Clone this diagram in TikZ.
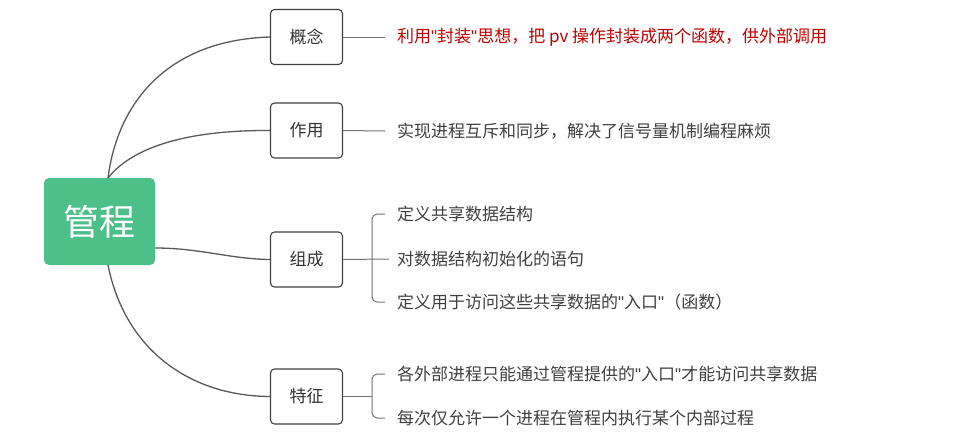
\documentclass[tikz,border=0pt]{standalone}
\usepackage{fontspec}
\setmainfont{Noto Sans CJK SC}
\newfontfamily\latf{Liberation Sans}
\newcommand{\qq}{{\latf\symbol{34}}}
\begin{document}
\begin{tikzpicture}[x=1pt,y=-1pt,
  lbox/.style={draw=black!75,line width=1.1pt,rounded corners=4pt,minimum width=72pt,minimum height=55pt,font=\fontsize{17}{20}\selectfont,text=black!80,inner sep=0pt},
  leaf/.style={anchor=west,font=\fontsize{17}{20}\selectfont,text=black!75,inner sep=0pt},
  con/.style={draw=black!65,line width=1.3pt},
  brk/.style={draw=black!55,line width=1pt,rounded corners=5pt}]
\useasboundingbox (0,0) rectangle (969,445);
\definecolor{rootg}{HTML}{4DC08A}
\node[rounded corners=5pt,fill=rootg,minimum width=111pt,minimum height=87pt,text=white,font=\fontsize{36}{42}\selectfont,inner sep=0pt] (root) at (99.5,221.5) {管程};
\node[lbox] (a) at (306.5,37) {概念};
\node[lbox] (b) at (306.5,130.5) {作用};
\node[lbox] (c) at (306.5,259.5) {组成};
\node[lbox] (d) at (306.5,396.5) {特征};
\coordinate (rt) at (108,178);
\coordinate (rb) at (108,265);
\draw[con] (rt) .. controls (118,100) and (170,40) .. (a.west);
\draw[con] (rt) .. controls (130,150) and (180,130) .. (b.west);
\draw[con] (root.east |- 0,248) .. controls (200,248) and (230,259) .. (c.west);
\draw[con] (rb) .. controls (125,350) and (190,396) .. (d.west);
\node[leaf,text=red!75!black] (a1) at (397,37) {利用\qq 封装\qq 思想，把 pv 操作封装成两个函数，供外部调用};
\node[leaf] (b1) at (397,131) {实现进程互斥和同步，解决了信号量机制编程麻烦};
\node[leaf] (c1) at (397,214) {定义共享数据结构};
\node[leaf] (c2) at (397,259) {对数据结构初始化的语句};
\node[leaf] (c3) at (397,302) {定义用于访问这些共享数据的\qq 入口\qq （函数）};
\node[leaf] (d1) at (397,374) {各外部进程只能通过管程提供的\qq 入口\qq 才能访问共享数据};
\node[leaf] (d2) at (397,418) {每次仅允许一个进程在管程内执行某个内部过程};
\draw[brk] (a.east) -- ([xshift=-12pt]a1.west);
\draw[brk] (b.east) -- ([xshift=-12pt]b1.west);
\draw[brk] (c.east) -- ([xshift=-8pt]c2.west);
\draw[brk] ([xshift=-12pt]c1.west) -- (372,214) -- (372,302) -- ([xshift=-12pt]c3.west);
\draw[brk] (d.east) -- (372,396.5);
\draw[brk] ([xshift=-12pt]d1.west) -- (372,374) -- (372,418) -- ([xshift=-12pt]d2.west);
\end{tikzpicture}
\end{document}
